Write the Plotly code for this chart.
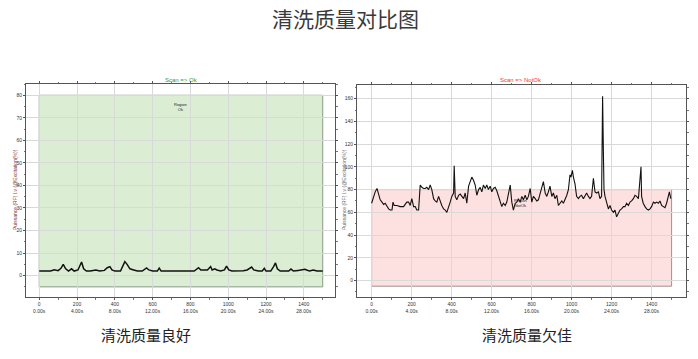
import plotly.graph_objects as go

# ---- data ----
ok_x = [0, 20, 40, 60, 80, 100, 115, 127, 140, 155, 171, 185, 205, 224, 235, 250, 270, 300, 320,
        345, 360, 374, 385, 400, 430, 446, 453, 465, 480, 500, 520, 545, 568, 580, 600, 625, 635,
        645, 670, 700, 740, 780, 820, 843, 855, 870, 890, 907, 915, 929, 940, 960, 980, 991, 1003,
        1020, 1050, 1080, 1100, 1115, 1124, 1135, 1160, 1180, 1191, 1200, 1225, 1240, 1250, 1260,
        1275, 1300, 1320, 1332, 1345, 1370, 1390, 1406, 1415, 1430, 1450, 1470, 1490, 1500]
ok_y = [2.0, 2.0, 2.2, 2.0, 2.6, 2.2, 3.2, 5.0, 3.0, 2.0, 3.0, 2.0, 2.5, 6.0, 3.0, 2.0, 2.0, 2.5, 2.0,
        2.3, 3.5, 4.0, 2.5, 2.0, 2.0, 5.0, 6.2, 5.0, 3.0, 2.5, 2.0, 2.0, 3.4, 2.5, 2.0, 2.0, 3.3,
        2.0, 2.0, 2.0, 2.0, 2.0, 2.0, 3.5, 2.5, 2.5, 2.5, 4.0, 2.5, 3.0, 2.5, 2.0, 2.5, 4.2, 2.5,
        2.0, 2.0, 2.2, 2.5, 3.5, 3.8, 2.5, 2.0, 2.0, 3.2, 2.0, 2.0, 4.0, 5.6, 3.0,
        2.0, 2.0, 2.0, 2.9, 2.0, 2.3, 2.5, 2.8, 2.5, 2.0, 2.5, 2.0, 2.0, 2.0]

nok_x = [0, 10, 18, 27, 35, 43, 52, 60, 68, 77, 85, 93, 102, 107, 113, 127, 143, 160, 176, 185,
         193, 201, 210, 218, 226, 235, 243, 251, 260, 268, 276, 285, 293, 301, 310, 318, 326, 335,
         343, 351, 360, 368, 376, 385, 393, 401, 410, 413, 418, 426, 435, 443, 451, 460, 468, 476,
         485, 493, 501, 510, 518, 526, 535, 543, 551, 559, 568, 576, 584, 593, 601, 609, 618, 626,
         634, 643, 651, 659, 668, 676, 684, 693, 701, 709, 718, 726, 734, 743, 751, 759, 768, 776,
         784, 793, 801, 809, 818, 826, 834, 843, 851, 859, 868, 876, 884, 892, 901, 909, 917, 926,
         934, 942, 951, 959, 967, 976, 984, 992, 997, 1004, 1009, 1017, 1025, 1034, 1042, 1050,
         1059, 1067, 1075, 1084, 1092, 1100, 1109, 1117, 1125, 1134, 1142, 1150, 1155, 1159, 1162,
         1167, 1175, 1184, 1192, 1200, 1209, 1217, 1225, 1234, 1242, 1250, 1259, 1267, 1275, 1284,
         1292, 1300, 1309, 1317, 1325, 1334, 1347, 1350, 1358, 1367, 1375, 1384, 1392, 1400, 1409,
         1417, 1425, 1434, 1442, 1450, 1459, 1467, 1475, 1484, 1489, 1496]
nok_y = [68, 75, 78, 81, 75, 71, 69, 67, 68, 65, 63, 62, 62, 69, 66, 66, 65, 65, 69, 69,
         66, 72, 65, 65, 62, 62, 84, 82, 81, 81, 82, 80, 84, 80, 72, 70, 69, 74,
         69, 66, 63, 62, 60, 66, 69, 74, 77, 101, 74, 71, 75, 76, 74, 72, 77, 68,
         83, 88, 91, 88, 84, 75, 80, 82, 78, 84, 81, 84, 80, 83, 78, 81, 82, 79,
         74, 69, 65, 68, 66, 69, 75, 84, 69, 62, 68, 69, 72, 69, 74, 71, 75, 71,
         74, 81, 69, 74, 72, 70, 71, 77, 84, 87, 77, 74, 78, 83, 74, 77, 72, 75,
         66, 68, 70, 68, 71, 75, 80, 93, 91, 97, 91, 85, 74, 72, 74, 75,
         72, 75, 77, 74, 72, 74, 90, 78, 77, 78, 72, 74, 162, 112, 80,
         74, 68, 63, 66, 62, 60, 62, 56, 60, 62, 63, 65, 65, 68, 66,
         69, 70, 72, 75, 74, 72, 100, 74, 68, 65, 63, 62, 63, 65, 69,
         68, 69, 68, 70, 66, 65, 64, 68, 75, 78, 72]

tick_vals = [0, 200, 400, 600, 800, 1000, 1200, 1400]
tick_text = ["0<br>0.00s", "200<br>4.00s", "400<br>8.00s", "600<br>12.00s", "800<br>16.00s",
             "1000<br>20.00s", "1200<br>24.00s", "1400<br>28.00s"]
ok_region = [0, 1500, -5, 80]
nok_region = [0, 1500, -5, 80]

fig = go.Figure()
fig.add_trace(go.Scatter(x=ok_x, y=ok_y, mode="lines", line=dict(color="#111111", width=1.5),
                         xaxis="x", yaxis="y", showlegend=False))
fig.add_trace(go.Scatter(x=nok_x, y=nok_y, mode="lines", line=dict(color="#111111", width=1.1),
                         xaxis="x2", yaxis="y2", showlegend=False))

axis_common = dict(showline=True, mirror="ticks", linecolor="#555555", linewidth=1,
                   ticks="outside", ticklen=2, tickcolor="#555555", gridcolor="#d9d9d9",
                   gridwidth=1, zeroline=False, tickfont=dict(size=5, color="#333333",
                                                              family="Liberation Sans"),
                   minor=dict(ticks="outside", ticklen=1.5, tickcolor="#777777", showgrid=False))

fig.update_layout(
    width=698, height=359, margin=dict(l=0, r=0, t=0, b=0),
    paper_bgcolor="white", plot_bgcolor="white",
    xaxis=dict(domain=[26 / 698, 335 / 698], range=[-70, 1565], tickvals=tick_vals,
               ticktext=tick_text, anchor="y", **axis_common),
    yaxis=dict(domain=[1 - 297 / 359, 1 - 84 / 359], range=[-9.5, 85], dtick=10,
               anchor="x", **axis_common),
    xaxis2=dict(domain=[357 / 698, 686 / 698], range=[-73, 1572], tickvals=tick_vals,
                ticktext=tick_text, anchor="y2", **axis_common),
    yaxis2=dict(domain=[1 - 297 / 359, 1 - 85 / 359], range=[-14.5, 172], dtick=20,
                anchor="x2", **axis_common),
)
fig.update_xaxes(minor_dtick=100)
fig.update_yaxes(minor_dtick=5, selector=dict(anchor="x"))
fig.update_yaxes(minor_dtick=10, selector=dict(anchor="x2"))

fig.add_shape(type="rect", xref="x", yref="y", x0=ok_region[0], x1=ok_region[1],
              y0=ok_region[2], y1=ok_region[3], fillcolor="#dbeed4",
              line=dict(color="#8a9a86", width=1), layer="below")
fig.add_shape(type="rect", xref="x2", yref="y2", x0=nok_region[0], x1=nok_region[1],
              y0=nok_region[2], y1=nok_region[3], fillcolor="#fde0e0",
              line=dict(color="#a09090", width=1), layer="below")

cjk = "Noto Sans CJK SC"
ann = [
    dict(text="清洗质量对比图", x=345 / 698, y=1 - 18 / 359, font=dict(size=21, color="#3a3a3a", family=cjk)),
    dict(text="清洗质量良好", x=146 / 698, y=1 - 334 / 359, font=dict(size=15, color="#222222", family=cjk)),
    dict(text="清洗质量欠佳", x=527 / 698, y=1 - 334 / 359, font=dict(size=15, color="#222222", family=cjk)),
    dict(text="Scan => Ok", x=182 / 698, y=1 - 80 / 359, font=dict(size=6, color="#2ca02c", family="Liberation Sans")),
    dict(text="Scan => NotOk", x=521 / 698, y=1 - 80 / 359, font=dict(size=6, color="#ff3030", family="Liberation Sans")),
    dict(text="Puissance (RF) I.v (@Excitation(%))", x=15 / 698, y=1 - 190 / 359, textangle=-90,
         font=dict(size=5, color="#7a3030", family="Liberation Sans")),
    dict(text="Puissance (RF) I.v (@Excitation(%))", x=344 / 698, y=1 - 190 / 359, textangle=-90,
         font=dict(size=5, color="#666666", family="Liberation Sans")),
]
for a in ann:
    fig.add_annotation(xref="paper", yref="paper", showarrow=False, xanchor="center",
                       yanchor="middle", **a)

fig.add_annotation(xref="x", yref="y", x=745, y=75, text="Region<br>Ok", showarrow=False,
                   font=dict(size=4, color="#222222", family="Liberation Sans"))
fig.add_annotation(xref="x2", yref="y2", x=742, y=68, text="Region<br>NotOk", showarrow=False,
                   font=dict(size=4, color="#222222", family="Liberation Sans"))

fig.write_html("out.html", config={"displayModeBar": False},
               post_script="document.body.style.margin='0';")
